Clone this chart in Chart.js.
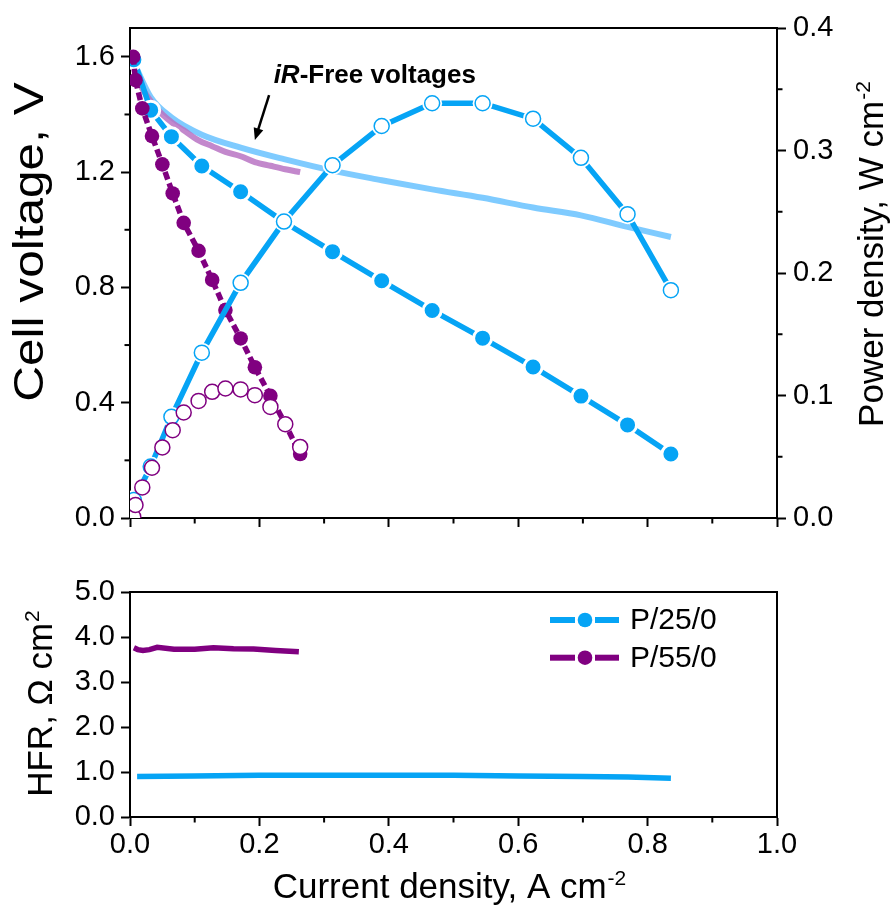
<!DOCTYPE html>
<html>
<head>
<meta charset="utf-8">
<script src="https://cdn.jsdelivr.net/npm/chart.js@4.4.0/dist/chart.umd.min.js"></script>
<style>
  body { margin: 0; background: #fff; }
  #wrap { position: relative; width: 894px; height: 905px; }
  canvas { position: absolute; left: 0; }
</style>
</head>
<body>
<div id="wrap">
  <canvas id="top" width="894" height="560" style="top:0"></canvas>
  <canvas id="bottom" width="894" height="345" style="top:560px"></canvas>
</div>
<script>
// === data ===
const seriesNames = ["P/25/0", "P/55/0"];

// P/25/0
const blueX = [0.006, 0.032, 0.064, 0.111, 0.171, 0.238, 0.313, 0.389, 0.467, 0.545, 0.623, 0.697, 0.769, 0.836];
const blueV = [1.59, 1.415, 1.323, 1.221, 1.132, 1.027, 0.924, 0.823, 0.72, 0.624, 0.524, 0.423, 0.323, 0.222];
const blueP = [0.0147, 0.042, 0.0826, 0.135, 0.192, 0.242, 0.288, 0.320, 0.3386, 0.3386, 0.326, 0.294, 0.248, 0.186];
const blueIRFree = [1.58, 1.46, 1.39, 1.33, 1.285, 1.245, 1.205, 1.172, 1.14, 1.111, 1.077, 1.05, 1.01, 0.975];

// P/55/0
const purpleX = [0.005, 0.0085, 0.019, 0.034, 0.050, 0.066, 0.083, 0.106, 0.127, 0.1475, 0.171, 0.193, 0.217, 0.240, 0.263];
const purpleV = [1.6, 1.519, 1.421, 1.325, 1.227, 1.126, 1.024, 0.927, 0.826, 0.7215, 0.623, 0.523, 0.424, 0.326, 0.222];
const purpleP = [0.001, 0.0106, 0.025, 0.041, 0.0576, 0.0717, 0.0861, 0.0956, 0.103, 0.1057, 0.105, 0.1003, 0.0907, 0.0766, 0.058];
const purpleIRFree = [1.57, 1.54, 1.49, 1.44, 1.40, 1.37, 1.345, 1.31, 1.29, 1.27, 1.255, 1.235, 1.222, 1.21, 1.20];

// HFR
const blueHfrX = [0.011, 0.1, 0.2, 0.3, 0.4, 0.5, 0.6, 0.7, 0.77, 0.836];
const blueHfr = [0.90, 0.91, 0.93, 0.93, 0.93, 0.93, 0.91, 0.90, 0.89, 0.86];
const purpleHfrX = [0.006, 0.012, 0.02, 0.03, 0.042, 0.068, 0.1, 0.129, 0.16, 0.191, 0.225, 0.261];
const purpleHfr = [3.76, 3.72, 3.70, 3.72, 3.77, 3.73, 3.73, 3.76, 3.74, 3.735, 3.70, 3.67];

// ticks
const xTicks = [0, 0.2, 0.4, 0.6, 0.8, 1.0];
const xMinor = [0.1, 0.3, 0.5, 0.7, 0.9];
const vTicks = [0, 0.4, 0.8, 1.2, 1.6];
const vMinor = [0.2, 0.6, 1.0, 1.4];
const pTicks = [0, 0.1, 0.2, 0.3, 0.4];
const pMinor = [0.05, 0.15, 0.25, 0.35];
const hfrTicks = [0, 1, 2, 3, 4, 5];

// annotation
const noteText = ["iR", "-Free voltages"];
const notePos = { x: 0.222, y: 1.508 };
const arrowFrom = { x: 0.215, y: 1.467 };
const arrowTo = { x: 0.193, y: 1.311 };

// === styling ===
const BLUE = "#06a4f5";
const PURPLE = "#800080";
const LIGHT_BLUE = "rgba(120,200,255,0.95)";
const LIGHT_PURPLE = "rgba(185,115,195,0.85)";
const FONT = '"Liberation Sans", Arial, sans-serif';

Chart.defaults.font.family = FONT;
Chart.defaults.color = "#000";

const pts = (xs, ys) => xs.map((x, i) => ({ x: x, y: ys[i] }));

function axis(extra) {
  return Object.assign({
    type: "linear",
    border: { display: true, width: 2, color: "#000" },
    grid: { display: true, drawOnChartArea: false, drawTicks: true, tickLength: 9, tickWidth: 2, tickColor: "#000", color: "#000" },
    ticks: { font: { size: 29 }, color: "#000", padding: 6, callback: v => v.toFixed(1) }
  }, extra);
}

function richText(ctx, x, y, rot, stretch, size, main, sup) {
  ctx.save();
  ctx.translate(x, y);
  ctx.rotate(rot);
  ctx.scale(stretch, 1);
  ctx.fillStyle = "#000";
  ctx.textBaseline = "alphabetic";
  ctx.textAlign = "left";
  ctx.font = size + "px " + FONT;
  const w1 = ctx.measureText(main).width;
  const ss = Math.round(size * 0.6);
  ctx.font = ss + "px " + FONT;
  const w2 = sup ? ctx.measureText(sup).width + 1 : 0;
  const x0 = -(w1 + w2) / 2;
  ctx.font = size + "px " + FONT;
  ctx.fillText(main, x0, 0);
  if (sup) {
    ctx.font = ss + "px " + FONT;
    ctx.fillText(sup, x0 + w1 + 1, -size * 0.37);
  }
  ctx.restore();
}

// minor ticks, frame lines and titles
const extras = {
  id: "extras",
  afterDraw(chart, args, opts) {
    const ctx = chart.ctx;
    const ca = chart.chartArea;
    ctx.save();
    ctx.strokeStyle = "#000";
    ctx.lineWidth = 2;
    (opts.minor || []).forEach(m => {
      const s = chart.scales[m.id];
      m.values.forEach(v => {
        const p = s.getPixelForValue(v);
        ctx.beginPath();
        if (s.isHorizontal()) { ctx.moveTo(p, ca.bottom); ctx.lineTo(p, ca.bottom + 5.5); }
        else if (s.position === "left") { ctx.moveTo(ca.left, p); ctx.lineTo(ca.left - 5.5, p); }
        else { ctx.moveTo(ca.right, p); ctx.lineTo(ca.right + 5.5, p); }
        ctx.stroke();
      });
    });
    // frame
    ctx.beginPath();
    ctx.moveTo(ca.left - 1, ca.top);
    ctx.lineTo(ca.right, ca.top);
    if (opts.closeRight) ctx.lineTo(ca.right, ca.bottom);
    ctx.stroke();
    ctx.restore();
    if (opts.draw) opts.draw(chart);
  }
};

// === top panel ===
new Chart(document.getElementById("top"), {
  type: "line",
  data: {
    datasets: [
      {
        label: seriesNames[1] + " power", data: pts(purpleX, purpleP), yAxisID: "y2", order: 1,
        showLine: false, pointRadius: 7.5, pointBackgroundColor: "#fff", pointBorderColor: PURPLE, pointBorderWidth: 1.5
      },
      {
        label: seriesNames[0] + " power", data: pts(blueX, blueP), yAxisID: "y2", order: 2,
        showLine: false, pointRadius: 7.5, pointBackgroundColor: "#fff", pointBorderColor: BLUE, pointBorderWidth: 1.5
      },
      {
        // white halo so the line stops short of the open symbols
        label: "gap", data: pts(blueX, blueP), yAxisID: "y2", order: 3,
        showLine: false, pointRadius: 10, pointBackgroundColor: "#fff", pointBorderWidth: 0
      },
      {
        label: seriesNames[0] + " power line", data: pts(blueX, blueP), yAxisID: "y2", order: 4,
        borderColor: BLUE, borderWidth: 5.5, pointRadius: 0
      },
      {
        label: seriesNames[1], data: pts(purpleX, purpleV), yAxisID: "y", order: 5,
        borderColor: PURPLE, borderWidth: 5.5, borderDash: [8, 4], pointRadius: 7.3, pointBackgroundColor: PURPLE, pointBorderWidth: 0
      },
      {
        label: seriesNames[0], data: pts(blueX, blueV), yAxisID: "y", order: 6,
        borderColor: BLUE, borderWidth: 5.5, pointRadius: 9, pointBackgroundColor: BLUE, pointBorderColor: "#fff", pointBorderWidth: 3
      },
      {
        label: seriesNames[1] + " iR-free", data: pts(purpleX, purpleIRFree), yAxisID: "y", order: 7,
        borderColor: LIGHT_PURPLE, borderWidth: 6, pointRadius: 0, cubicInterpolationMode: "monotone"
      },
      {
        label: seriesNames[0] + " iR-free", data: pts(blueX, blueIRFree), yAxisID: "y", order: 8,
        borderColor: LIGHT_BLUE, borderWidth: 6, pointRadius: 0, cubicInterpolationMode: "monotone"
      }
    ]
  },
  options: {
    responsive: false,
    animation: false,
    devicePixelRatio: 1,
    layout: { padding: { top: 28, left: 0, right: 0, bottom: 0 } },
    scales: {
      x: axis({
        position: "bottom", min: 0, max: 1,
        ticks: { display: true, font: { size: 29 }, callback: () => "" },
        afterBuildTicks: s => { s.ticks = xTicks.map(v => ({ value: v })); },
        afterFit: s => { s.height = 42; }
      }),
      y: axis({
        position: "left", min: 0, max: 1.7,
        afterBuildTicks: s => { s.ticks = vTicks.map(v => ({ value: v })); },
        afterFit: s => { s.width = 130; }
      }),
      y2: axis({
        position: "right", min: 0, max: 0.4,
        ticks: { font: { size: 29 }, color: "#000", padding: 7, callback: v => v.toFixed(1) },
        afterBuildTicks: s => { s.ticks = pTicks.map(v => ({ value: v })); },
        afterFit: s => { s.width = 117; }
      })
    },
    plugins: {
      legend: { display: false },
      tooltip: { enabled: false },
      extras: {
        minor: [{ id: "x", values: xMinor }, { id: "y", values: vMinor }, { id: "y2", values: pMinor }],
        closeRight: false,
        draw: chart => {
          const ctx = chart.ctx;
          const sx = chart.scales.x, sy = chart.scales.y;
          richText(ctx, 43, 242, -Math.PI / 2, 1.18, 42, "Cell voltage, V");
          richText(ctx, 883, 254, -Math.PI / 2, 1, 35, "Power density, W cm", "-2");
          // annotation
          ctx.save();
          ctx.fillStyle = "#000";
          ctx.textBaseline = "alphabetic";
          let tx = sx.getPixelForValue(notePos.x);
          const ty = sy.getPixelForValue(notePos.y);
          ctx.font = "italic bold 26px " + FONT;
          ctx.fillText(noteText[0], tx, ty);
          tx += ctx.measureText(noteText[0]).width;
          ctx.font = "bold 26px " + FONT;
          ctx.fillText(noteText[1], tx, ty);
          const x1 = sx.getPixelForValue(arrowFrom.x), y1 = sy.getPixelForValue(arrowFrom.y);
          const x2 = sx.getPixelForValue(arrowTo.x), y2 = sy.getPixelForValue(arrowTo.y);
          const ang = Math.atan2(y2 - y1, x2 - x1);
          ctx.strokeStyle = "#000";
          ctx.lineWidth = 2.5;
          ctx.beginPath();
          ctx.moveTo(x1, y1);
          ctx.lineTo(x2 - 8 * Math.cos(ang), y2 - 8 * Math.sin(ang));
          ctx.stroke();
          ctx.beginPath();
          ctx.moveTo(x2, y2);
          ctx.lineTo(x2 - 12 * Math.cos(ang) + 5 * Math.sin(ang), y2 - 12 * Math.sin(ang) - 5 * Math.cos(ang));
          ctx.lineTo(x2 - 12 * Math.cos(ang) - 5 * Math.sin(ang), y2 - 12 * Math.sin(ang) + 5 * Math.cos(ang));
          ctx.closePath();
          ctx.fill();
          ctx.restore();
        }
      }
    }
  },
  plugins: [extras]
});

// === bottom panel (HFR) ===
new Chart(document.getElementById("bottom"), {
  type: "line",
  data: {
    datasets: [
      { label: seriesNames[0], data: pts(blueHfrX, blueHfr), borderColor: BLUE, borderWidth: 5.5, pointRadius: 0 },
      { label: seriesNames[1], data: pts(purpleHfrX, purpleHfr), borderColor: PURPLE, borderWidth: 5.5, pointRadius: 0 }
    ]
  },
  options: {
    responsive: false,
    animation: false,
    devicePixelRatio: 1,
    layout: { padding: { top: 32, left: 0, right: 117, bottom: 0 } },
    scales: {
      x: axis({
        position: "bottom", min: 0, max: 1,
        ticks: { font: { size: 29 }, color: "#000", padding: 2, callback: v => v.toFixed(1) },
        afterBuildTicks: s => { s.ticks = xTicks.map(v => ({ value: v })); },
        afterFit: s => { s.height = 88; }
      }),
      y: axis({
        position: "left", min: 0, max: 5,
        afterBuildTicks: s => { s.ticks = hfrTicks.map(v => ({ value: v })); },
        afterFit: s => { s.width = 130; }
      })
    },
    plugins: {
      legend: { display: false },
      tooltip: { enabled: false },
      extras: {
        minor: [{ id: "x", values: xMinor }],
        closeRight: true,
        draw: chart => {
          const ctx = chart.ctx;
          const ca = chart.chartArea;
          richText(ctx, 51.7, 143.5, -Math.PI / 2, 1, 35, "HFR, \u03A9 cm", "2");
          richText(ctx, (ca.left + ca.right) / 2 - 4, 338, 0, 1, 35, "Current density, A cm", "-2");
          // legend
          const colors = [BLUE, PURPLE];
          ctx.save();
          seriesNames.forEach((name, i) => {
            const y = ca.top + 28 + i * 37.7;
            const x0 = ca.right - 227, x1 = ca.right - 158, xm = ca.right - 192;
            ctx.strokeStyle = colors[i];
            ctx.lineWidth = 6;
            ctx.beginPath(); ctx.moveTo(x0, y); ctx.lineTo(xm - 10, y); ctx.stroke();
            ctx.beginPath(); ctx.moveTo(xm + 10, y); ctx.lineTo(x1, y); ctx.stroke();
            ctx.fillStyle = colors[i];
            ctx.beginPath(); ctx.arc(xm, y, 7.3, 0, Math.PI * 2); ctx.fill();
            ctx.fillStyle = "#000";
            ctx.font = "30px " + FONT;
            ctx.textBaseline = "middle";
            ctx.fillText(name, ca.right - 147, y + 1);
          });
          ctx.restore();
        }
      }
    }
  },
  plugins: [extras]
});
</script>
</body>
</html>
